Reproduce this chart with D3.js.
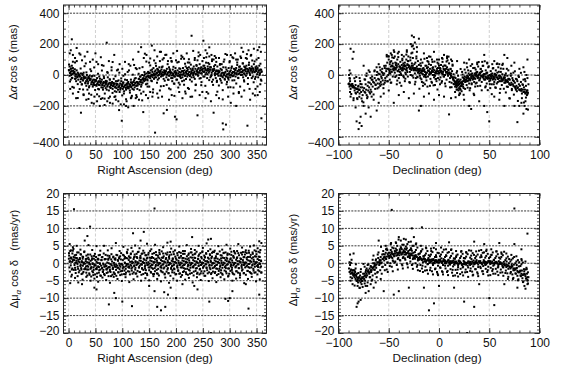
<!DOCTYPE html>
<html><head><meta charset="utf-8">
<script src="https://cdn.jsdelivr.net/npm/d3@7"></script>
<style>
body{margin:0;background:#fff}
svg{display:block}
text{font-family:"Liberation Sans",Arial,Helvetica,sans-serif;fill:#111}
</style>
</head><body>
<svg id="chart" width="563" height="370"></svg>
<script>
// ---------- tick labels ----------
const raTicks = [0,50,100,150,200,250,300,350];
const decTicks = [-100,-50,0,50,100];
const posTicks = [-400,-200,0,200,400];
const pmTicks = [-20,-15,-10,-5,0,5,10,15,20];

// ---------- data: [x, y] ----------
// Right Ascension (deg) vs Δα cos δ (mas)
const raDeltaAlpha = [
[1,30],[2,-5],[2,55],[3,15],[4,40],[5,0],[6,25],[7,-20],[8,45],[9,10],[4,-30],[6,60],
[11,20],[12,-25],[13,5],[14,-40],[15,30],[16,-10],[17,15],[18,-30],[19,0],
[21,-10],[22,-45],[23,10],[24,-25],[25,-60],[26,0],[27,-35],[28,15],[29,-20],
[31,-50],[32,-15],[33,-70],[34,0],[35,-35],[36,-55],[37,-20],[38,-80],[39,-5],
[41,-25],[42,-60],[43,-10],[44,-45],[45,-75],[46,-30],[47,-50],[48,-5],[49,-65],
[51,-35],[52,-70],[53,-20],[54,-55],[55,-90],[56,-40],[57,-10],[58,-65],[59,-45],
[61,-80],[62,-30],[63,-60],[64,-95],[65,-45],[66,-20],[67,-70],[68,-50],[69,-85],
[71,-40],[72,-75],[73,-15],[74,-60],[75,-100],[76,-50],[77,-30],[78,-80],[79,-65],
[81,-45],[82,-90],[83,-70],[84,-25],[85,-55],[86,-105],[87,-75],[88,-40],[89,-85],
[91,-60],[92,-95],[93,-35],[94,-75],[95,-110],[96,-55],[97,-85],[98,-40],[99,-70],
[101,-90],[102,-50],[103,-120],[104,-75],[105,-30],[106,-65],[107,-95],[108,-55],[109,-80],
[111,-45],[112,-85],[113,-60],[114,-100],[115,-70],[116,-30],[117,-75],[118,-50],[119,-90],
[121,-65],[122,-35],[123,-80],[124,-50],[125,-20],[126,-70],[127,-45],[128,-90],[129,-55],
[131,-25],[132,-60],[133,-10],[134,-45],[135,-75],[136,-30],[137,0],[138,-50],[139,-20],
[141,-40],[142,5],[143,-25],[144,-60],[145,10],[146,-10],[147,-35],[148,20],[149,-5],
[151,15],[152,-20],[153,30],[154,-5],[155,-40],[156,20],[157,0],[158,45],[159,-25],
[161,5],[162,30],[163,-15],[164,15],[165,40],[166,-30],[167,25],[168,0],[169,50],
[171,20],[172,-10],[173,35],[174,0],[175,55],[176,15],[177,-25],[178,30],[179,5],
[181,25],[182,-15],[183,40],[184,5],[185,-30],[186,20],[187,50],[188,-5],[189,30],
[191,-20],[192,15],[193,-40],[194,35],[195,0],[196,-55],[197,20],[198,-10],[199,45],
[201,10],[202,-30],[203,30],[204,-5],[205,-50],[206,20],[207,0],[208,40],[209,-20],
[211,25],[212,-15],[213,45],[214,5],[215,-35],[216,30],[217,-5],[218,55],[219,15],
[221,-10],[222,35],[223,0],[224,50],[225,20],[226,-30],[227,40],[228,10],[229,-15],
[231,30],[232,0],[233,55],[234,15],[235,-25],[236,40],[237,5],[238,65],[239,25],
[241,-5],[242,45],[243,15],[244,70],[245,30],[246,-20],[247,50],[248,10],[249,35],
[251,60],[252,20],[253,-10],[254,45],[255,5],[256,80],[257,30],[258,-20],[259,55],
[261,15],[262,70],[263,35],[264,-15],[265,50],[266,0],[267,90],[268,25],[269,-30],
[271,40],[272,5],[273,65],[274,-20],[275,30],[276,-45],[277,55],[278,10],[279,-5],
[281,25],[282,-25],[283,40],[284,-5],[285,-50],[286,15],[287,-15],[288,50],[289,0],
[291,-30],[292,20],[293,-10],[294,35],[295,-45],[296,5],[297,-20],[298,45],[299,10],
[301,-15],[302,30],[303,0],[304,55],[305,-35],[306,20],[307,-5],[308,40],[309,15],
[311,-10],[312,45],[313,5],[314,65],[315,25],[316,-20],[317,35],[318,10],[319,55],
[321,0],[322,40],[323,20],[324,75],[325,-15],[326,30],[327,55],[328,5],[329,35],
[331,60],[332,10],[333,40],[334,-20],[335,25],[336,80],[337,45],[338,0],[339,30],
[341,55],[342,15],[343,-10],[344,40],[345,70],[346,20],[347,-25],[348,50],[349,30],
[351,5],[352,45],[353,-15],[354,30],[355,60],[356,10],[357,35],[358,-30],[359,20],
[0.5,32],[2.5,12],[4.5,23],[6.5,6],[8.5,29],[9.5,18],
[10.5,12],[12.5,-8],[14.5,3],[16.5,-14],[18.5,9],[19.5,-4],
[20.5,-8],[22.5,-28],[24.5,-17],[26.5,-34],[28.5,-11],[29.5,-22],
[30.5,-18],[32.5,-40],[34.5,-27],[36.5,-44],[38.5,-21],[39.5,-33],
[40.5,-30],[42.5,-48],[44.5,-37],[46.5,-56],[48.5,-31],[49.5,-42],
[50.5,-38],[52.5,-60],[54.5,-47],[56.5,-64],[58.5,-41],[59.5,-52],
[60.5,-43],[62.5,-66],[64.5,-52],[66.5,-69],[68.5,-46],[69.5,-58],
[70.5,-48],[72.5,-68],[74.5,-57],[76.5,-76],[78.5,-51],[79.5,-62],
[80.5,-55],[82.5,-73],[84.5,-62],[86.5,-80],[88.5,-56],[89.5,-67],
[90.5,-58],[92.5,-79],[94.5,-67],[96.5,-85],[98.5,-61],[99.5,-72],
[100.5,-60],[102.5,-78],[104.5,-68],[106.5,-84],[108.5,-62],[109.5,-73],
[110.5,-53],[112.5,-75],[114.5,-62],[116.5,-79],[118.5,-56],[119.5,-66],
[120.5,-45],[122.5,-63],[124.5,-52],[126.5,-68],[128.5,-46],[129.5,-55],
[130.5,-25],[132.5,-43],[134.5,-32],[136.5,-48],[138.5,-26],[139.5,-35],
[140.5,-5],[142.5,-23],[144.5,-12],[146.5,-28],[148.5,-6],[149.5,-15],
[150.5,12],[152.5,-8],[154.5,3],[156.5,-14],[158.5,9],[159.5,-1],
[160.5,22],[162.5,2],[164.5,13],[166.5,-4],[168.5,19],[169.5,8],
[170.5,27],[172.5,7],[174.5,18],[176.5,1],[178.5,24],[179.5,13],
[180.5,22],[182.5,2],[184.5,13],[186.5,-4],[188.5,19],[189.5,8],
[190.5,17],[192.5,-3],[194.5,8],[196.5,-9],[198.5,14],[199.5,3],
[200.5,16],[202.5,-4],[204.5,9],[206.5,-8],[208.5,15],[209.5,2],
[210.5,22],[212.5,2],[214.5,13],[216.5,-4],[218.5,19],[219.5,8],
[220.5,27],[222.5,7],[224.5,18],[226.5,1],[228.5,24],[229.5,13],
[230.5,32],[232.5,12],[234.5,23],[236.5,6],[238.5,29],[239.5,18],
[240.5,37],[242.5,17],[244.5,28],[246.5,11],[248.5,34],[249.5,23],
[250.5,42],[252.5,22],[254.5,33],[256.5,16],[258.5,39],[259.5,28],
[260.5,40],[262.5,24],[264.5,35],[266.5,14],[268.5,37],[269.5,26],
[270.5,32],[272.5,12],[274.5,23],[276.5,6],[278.5,29],[279.5,18],
[280.5,17],[282.5,-3],[284.5,8],[286.5,-9],[288.5,14],[289.5,3],
[290.5,12],[292.5,-8],[294.5,3],[296.5,-14],[298.5,9],[299.5,-2],
[300.5,22],[302.5,2],[304.5,13],[306.5,-4],[308.5,19],[309.5,8],
[310.5,32],[312.5,12],[314.5,23],[316.5,6],[318.5,29],[319.5,18],
[320.5,37],[322.5,17],[324.5,28],[326.5,11],[328.5,34],[329.5,23],
[330.5,42],[332.5,22],[334.5,33],[336.5,16],[338.5,39],[339.5,28],
[340.5,40],[342.5,24],[344.5,31],[346.5,18],[348.5,41],[349.5,26],
[350.5,37],[352.5,17],[354.5,28],[356.5,11],[358.5,34],[359.5,23],
[0.8,68],[2.6,-42],[4.4,42],[6.2,-18],[8,86],[9.8,-82],[11.6,37],[13.4,-22],[15.2,90],[17,-59],[18.8,2],
[20.6,-91],[22.4,42],[24.2,-61],[26,7],[27.8,-125],[29.6,57],[31.4,-54],[33.2,17],[35,-95],[36.8,-13],
[38.6,-72],[40.4,37],[42.2,-128],[44,-7],[45.8,-64],[47.6,49],[49.4,-97],[51.2,-34],[53,-125],[54.8,8],
[56.6,-93],[58.4,-24],[60.2,-155],[62,29],[63.8,-82],[65.6,-9],[67.4,-120],[69.2,-38],[71,-95],[72.8,14],
[74.6,-150],[76.4,-28],[78.2,-84],[80,30],[81.8,-116],[83.6,-52],[85.4,-142],[87.2,-8],[89,-109],[90.8,-40],
[92.6,-170],[94.4,15],[96.2,-95],[98,-22],[99.8,-132],[101.6,-48],[103.4,-105],[105.2,5],[107,-157],[108.8,-33],
[110.6,-86],[112.4,30],[114.2,-114],[116,-47],[117.8,-135],[119.6,2],[121.4,-95],[123.2,-23],[125,-150],[126.8,38],
[128.6,-68],[130.4,8],[132.2,-98],[134,-10],[135.8,-63],[137.6,51],[139.4,-108],[141.2,19],[143,-32],[144.8,87],
[146.6,-56],[148.4,12],[150.2,-75],[152,62],[153.8,-36],[155.6,35],[157.4,-93],[159.2,94],[161,-15],[162.8,59],
[164.6,-50],[166.4,35],[168.2,-21],[170,90],[171.8,-73],[173.6,50],[175.4,-5],[177.2,109],[179,-37],[180.8,27],
[182.6,-64],[184.4,70],[186.2,-31],[188,38],[189.8,-93],[191.6,91],[193.4,-20],[195.2,53],[197,-57],[198.8,27],
[200.6,-30],[202.4,81],[204.2,-81],[206,43],[207.8,-11],[209.6,105],[211.4,-40],[213.2,26],[215,-63],[216.8,73],
[218.6,-26],[220.4,45],[222.2,-84],[224,102],[225.8,-7],[227.6,67],[229.4,-42],[231.2,42],[233,-14],[234.8,97],
[236.6,-65],[238.4,59],[240.2,5],[242,121],[243.8,-23],[245.6,43],[247.4,-46],[249.2,90],[251,-10],[252.8,60],
[254.6,-70],[256.4,115],[258.2,5],[260,78],[261.8,-33],[263.6,51],[265.4,-7],[267.2,101],[269,-64],[270.8,56],
[272.6,-2],[274.4,111],[276.2,-37],[278,25],[279.8,-68],[281.6,66],[283.4,-36],[285.2,33],[287,-98],[288.8,86],
[290.6,-25],[292.4,49],[294.2,-60],[296,25],[297.8,-30],[299.6,82],[301.4,-79],[303.2,45],[305,-8],[306.8,109],
[308.6,-34],[310.4,33],[312.2,-55],[314,81],[315.8,-18],[317.6,53],[319.4,-75],[321.2,110],[323,1],[324.8,75],
[326.6,-34],[328.4,51],[330.2,-5],[332,105],[333.8,-58],[335.6,65],[337.4,10],[339.2,125],[341,-20],[342.8,44],
[344.6,-47],[346.4,88],[348.2,-13],[350,56],[351.8,-74],[353.6,110],[355.4,0],[357.2,73],[359,-37],
[2,140],[7,-77],[12,81],[17,-149],[22,132],[27,-94],[32,75],[37,-155],[42,25],[47,-185],[52,85],[57,-138],
[62,64],[67,-153],[72,19],[77,-180],[82,84],[87,-138],[92,35],[97,-190],[102,-5],[107,-200],[112,70],[117,-145],
[122,65],[127,-142],[132,44],[137,-164],[142,138],[147,-75],[152,107],[157,-113],[162,76],[167,-147],[172,150],
[177,-71],[182,131],[187,-87],[192,86],[197,-135],[202,156],[207,-62],[212,116],[217,-107],[222,81],[227,-141],
[232,156],[237,-62],[242,146],[247,-66],[252,110],[257,-110],[262,179],[267,-44],[272,123],[277,-108],[282,71],
[287,-158],[292,136],[297,-80],[302,129],[307,-81],[312,100],[317,-117],[322,176],[327,-42],[332,135],[337,-90],
[342,94],[347,-132],[352,161],[357,-60],
[6,231],[4,160],[8,130],[12,110],[15,175],[20,140],[25,95],[30,120],[35,150],[40,85],[45,100],[50,140],
[55,70],[60,115],[65,60],[71,209],[75,90],[80,50],[85,130],[90,30],[95,70],[100,40],[105,85],[110,20],
[115,60],[120,100],[125,45],[130,150],[135,180],[140,110],[145,130],[150,80],[155,190],[160,160],
[165,120],[170,150],[175,100],[180,130],[185,90],[190,110],[195,140],[200,95],[205,85],[210,125],
[215,105],[220,140],[225,80],[229,254],[235,110],[240,95],[245,130],[251,222],[255,160],[258,140],
[262,120],[266,130],[270,100],[275,85],[280,110],[285,70],[290,100],[295,130],[300,90],[305,115],
[310,140],[315,100],[320,120],[325,150],[330,110],[335,160],[340,130],[345,170],[350,100],[355,180],[358,150],
[3,-90],[8,-120],[14,-150],[18,-110],[23,-244],[28,-130],[33,-160],[38,-120],[43,-180],[48,-140],
[53,-170],[58,-200],[63,-150],[67,-194],[72,-170],[77,-140],[82,-185],[88,-160],[94,-227],[99,-296],
[103,-190],[108,-170],[111,-209],[116,-150],[121,-200],[126,-130],[131,-160],[135,-120],[139,-240],
[144,-130],[148,-150],[152,-110],[156,-140],[161,-373],[165,-120],[170,-100],[174,-140],[177,-248],
[183,-226],[187,-160],[192,-130],[198,-270],[201,-287],[206,-110],[212,-150],[218,-120],[224,-90],
[230,-140],[236,-100],[240,-261],[244,-130],[249,-110],[255,-150],[260,-120],[265,-170],[270,-244],
[275,-130],[280,-150],[287,-313],[288,-352],[293,-321],[297,-140],[302,-180],[307,-120],[312,-200],
[317,-110],[322,-140],[327,-100],[333,-328],[338,-160],[343,-120],[348,-90],[352,-130],[356,-110],[359,-280]
];

// Declination (deg) vs Δα cos δ (mas)
const decDeltaAlpha = [
[-89.5,-55],[-89,-75],[-88.5,-40],[-88,-90],[-87,-60],[-86,-80],[-85.5,-70],[-89,-20],[-88,10],[-89.5,0],
[-88.5,-110],[-88,-140],[-89,30],
[-90,-58],[-89,-62],[-88,-66],[-87,-70],[-86,-74],[-85,-78],[-84,-82],[-83,-86],[-82,-89],[-81,-92],[-80,-95],[-79,-97],
[-84.5,-80],[-84,-100],[-83,-65],[-82.5,-120],[-82,-90],[-81,-110],[-80.5,-75],[-83.5,-40],[-81.5,-150],
[-79.5,-95],[-79,-120],[-78,-80],[-77.5,-110],[-77,-60],[-76,-130],[-75.5,-100],[-78.5,-40],[-76.5,-170],[-79,-20],
[-74.5,-85],[-74,-110],[-73,-60],[-72.5,-95],[-72,-130],[-71,-70],[-70.5,-100],[-73.5,-30],[-71.5,-150],[-72,10],
[-69.5,-80],[-69,-50],[-68,-95],[-67.5,-60],[-67,-30],[-66,-75],[-65.5,-45],[-68.5,-120],[-66.5,-10],[-69,20],[-67,-140],
[-64.5,-50],[-64,-20],[-63,-65],[-62.5,-35],[-62,0],[-61,-55],[-60.5,-25],[-63.5,-90],[-61.5,20],[-60,-80],[-64,30],
[-59.5,-30],[-59,5],[-58,-45],[-57.5,-10],[-57,20],[-56,-35],[-55.5,0],[-58.5,-70],[-56.5,40],[-55,-60],[-59,50],[-57,-20],
[-54.5,10],[-54,45],[-53.5,-20],[-53,60],[-52.5,25],[-52,-10],[-51.5,80],[-51,40],[-50.5,0],[-50,100],[-54,-50],[-52,120],[-51,-40],
[-49.5,30],[-49,70],[-48.5,10],[-48,55],[-47.5,90],[-47,20],[-46.5,60],[-46,-10],[-45.5,40],[-45,110],[-49,-30],[-47,130],[-46,75],[-48,-50],
[-44.5,50],[-44,15],[-43.5,80],[-43,35],[-42.5,-5],[-42,60],[-41.5,100],[-41,25],[-40.5,70],[-40,-20],[-44,120],[-42,-60],[-43,45],[-41,140],
[-39.5,55],[-39,20],[-38.5,85],[-38,40],[-37.5,0],[-37,65],[-36.5,105],[-36,30],[-35.5,75],[-35,-15],[-39,-50],[-37,130],[-38,10],[-36,50],
[-34.5,40],[-34,80],[-33.5,15],[-33,60],[-32.5,100],[-32,30],[-31.5,70],[-31,-10],[-30.5,120],[-30,50],[-34,-40],[-32,150],[-33,5],[-31,90],
[-29.5,60],[-29,20],[-28.5,95],[-28,40],[-27.5,140],[-27,75],[-26.5,-5],[-26,110],[-25.5,35],[-25,170],[-29,-50],[-27,185],[-28,0],[-26,60],
[-24.5,45],[-24,10],[-23.5,80],[-23,30],[-22.5,120],[-22,55],[-21.5,-15],[-21,90],[-20.5,20],[-20,65],[-24,-60],[-22,150],[-23,-20],[-21,40],
[-19.5,10],[-19,40],[-18.5,-20],[-18,60],[-17.5,25],[-17,-45],[-16.5,80],[-16,5],[-15.5,45],[-15,-10],[-18,100],[-16,-70],[-17,30],[-19,-5],
[-14.5,35],[-14,0],[-13.5,60],[-13,15],[-12.5,-35],[-12,45],[-11.5,90],[-11,-10],[-10.5,25],[-10,70],[-14,-60],[-12,110],[-13,-15],[-11,50],
[-9.5,5],[-9,40],[-8.5,-25],[-8,65],[-7.5,20],[-7,-50],[-6.5,85],[-6,0],[-5.5,35],[-5,-15],[-9,-70],[-7,100],[-8,15],[-6,50],
[-4.5,30],[-4,-5],[-3.5,55],[-3,10],[-2.5,-40],[-2,40],[-1.5,80],[-1,-20],[-0.5,25],[0,60],[-4,-65],[-2,100],[-3,-25],[-1,45],
[0.5,10],[1,45],[1.5,-15],[2,65],[2.5,25],[3,-40],[3.5,85],[4,5],[4.5,40],[5,-10],[1,-60],[3,110],[2,20],[4,55],
[5.5,35],[6,0],[6.5,60],[7,20],[7.5,-30],[8,50],[8.5,95],[9,-5],[9.5,30],[10,75],[6,-55],[8,120],[7,40],[9,10],
[10.5,15],[11,-20],[11.5,40],[12,-5],[12.5,-50],[13,25],[13.5,60],[14,-30],[14.5,5],[15,-60],[11,-80],[13,90],[12,10],[14,-15],
[15.5,-40],[16,-75],[16.5,-20],[17,-60],[17.5,-95],[18,-35],[18.5,-70],[19,-5],[19.5,-50],[20,-85],[16,-110],[18,25],[17,-45],[19,-65],[16.5,-55],[18.5,-30],[17.5,-80],[19.5,-100],
[20.5,-55],[21,-90],[21.5,-30],[22,-70],[22.5,-105],[23,-45],[23.5,-15],[24,-60],[24.5,-85],[25,-35],[21,-120],[23,20],[22,-50],[24,-75],[20.5,-40],[22.5,-65],[24.5,-20],[21.5,-95],
[25.5,-10],[26,-45],[26.5,15],[27,-30],[27.5,-65],[28,-5],[28.5,-40],[29,30],[29.5,-20],[30,-55],[26,-90],[28,50],[27,-15],[29,-35],
[30.5,0],[31,-35],[31.5,25],[32,-20],[32.5,-60],[33,10],[33.5,-30],[34,45],[34.5,-10],[35,-45],[31,-85],[33,70],[32,5],[34,-25],
[35.5,10],[36,-25],[36.5,35],[37,-10],[37.5,-50],[38,20],[38.5,-20],[39,55],[39.5,0],[40,-35],[36,-75],[38,80],[37,15],[39,-15],
[40.5,15],[41,-20],[41.5,40],[42,-5],[42.5,-45],[43,25],[43.5,-15],[44,60],[44.5,5],[45,-30],[41,-70],[43,85],[42,20],[44,-10],
[45.5,5],[46,-30],[46.5,30],[47,-15],[47.5,-55],[48,15],[48.5,-25],[49,50],[49.5,-5],[50,-40],[46,-80],[48,75],[47,10],[49,-20],
[50.5,0],[51,-35],[51.5,25],[52,-20],[52.5,-60],[53,10],[53.5,-30],[54,45],[54.5,-10],[55,-45],[51,-85],[53,70],[52,5],[54,-25],
[55.5,5],[56,-30],[56.5,30],[57,-15],[57.5,-55],[58,15],[58.5,-25],[59,50],[59.5,-5],[60,-40],[56,-80],[58,75],
[60.5,-5],[61,-40],[61.5,20],[62,-25],[62.5,-65],[63,5],[63.5,-35],[64,40],[64.5,-15],[65,-50],[61,-90],[63,65],
[65.5,-15],[66,-50],[66.5,10],[67,-35],[67.5,-75],[68,-5],[68.5,-45],[69,30],[69.5,-25],[70,-60],
[70.5,-30],[71,-65],[71.5,-5],[72,-50],[72.5,-90],[73,-20],[73.5,-60],[74,15],[74.5,-40],[75,-75],
[75.5,-50],[76,-85],[76.5,-25],[77,-70],[77.5,-105],[78,-40],[78.5,-80],[79,-5],[79.5,-60],[80,-95],
[80.5,-70],[81,-100],[81.5,-45],[82,-90],[82.5,-120],[83,-60],[83.5,-95],[84,-30],[84.5,-80],[85,-110],
[85.5,-95],[86,-120],[86.5,-70],[87,-110],[87.5,-130],[88,-100],[88.5,-115],[89,-60],[86,-40],[88,-20],[87,0],
[66,-38],[68,-46],[70,-54],[72,-62],[74,-70],[76,-78],[78,-86],[80,-94],[82,-102],[84,-110],[86,-117],[88,-124],
[-50,40],[-48,35],[-46,55],[-44,40],[-42,50],[-40,35],[-38,45],[-36,40],[-34,55],[-32,45],[-30,60],[-28,50],
[-26,45],[-24,35],[-22,30],[-20,25],[-18,15],[-16,25],[-14,20],[-12,15],[-10,25],[-8,10],[-6,20],[-4,15],
[-2,25],[0,15],[2,25],[4,20],[6,30],[8,20],[10,15],[12,-5],[14,-20],[16,-45],[18,-55],[20,-60],[22,-50],
[24,-40],[26,-30],[28,-20],[30,-25],[32,-10],[34,-15],[36,0],[38,-5],[40,5],[42,-5],[44,0],[46,-10],[48,-15],
[50,-20],[52,-10],[54,-15],[56,-5],[58,-15],[60,-20],[62,-15],[64,-25],[66,-30],[68,-35],
[-49,20],[-47,60],[-45,30],[-43,65],[-41,25],[-39,55],[-37,30],[-35,60],[-33,35],[-31,65],[-29,40],[-27,60],
[-25,30],[-23,45],[-21,15],[-19,30],[-17,10],[-15,30],[-13,5],[-11,30],[-9,15],[-7,30],[-5,0],[-3,20],[-1,10],
[1,30],[3,10],[5,35],[7,15],[9,35],[11,5],[13,-15],[15,-35],[17,-70],[19,-45],[21,-75],[23,-55],[25,-25],
[27,-40],[29,-10],[31,-30],[33,-5],[35,-20],[37,5],[39,-15],[41,10],[43,-10],[45,5],[47,-20],[49,-5],[51,-25],
[53,-5],[55,-20],[57,0],[59,-25],[61,-10],[63,-30],[65,-20],[67,-40],[69,-25],
[-54.5,59],[-53.5,-36],[-52.5,41],[-51.5,-41],[-50.5,121],[-49.5,11],[-48.5,84],[-47.5,-49],[-46.5,114],[-45.5,35],
[-44.5,149],[-43.5,-13],[-42.5,76],[-41.5,-36],[-40.5,116],[-39.5,0],[-38.5,50],[-37.5,-70],[-36.5,95],[-35.5,-7],
[-34.5,64],[-33.5,-24],[-32.5,132],[-31.5,19],[-30.5,90],[-29.5,-46],[-28.5,113],[-27.5,32],[-26.5,145],[-25.5,-17],
[-24.5,70],[-23.5,-44],[-22.5,107],[-21.5,-12],[-20.5,34],[-19.5,-89],[-18.5,75],[-17.5,-28],[-16.5,40],[-15.5,-50],
[-14.5,105],[-13.5,-10],[-12.5,60],[-11.5,-75],[-10.5,85],[-9.5,4],[-8.5,118],[-7.5,-44],[-6.5,45],[-5.5,-67],
[-4.5,87],[-3.5,-27],[-2.5,24],[-1.5,-94],[-0.5,72],[0.5,-30],[1.5,40],[2.5,-50],[3.5,105],[4.5,-9],[5.5,62],
[6.5,-73],[7.5,87],[8.5,6],[9.5,119],[10.5,-45],[11.5,38],[12.5,-79],[13.5,67],[14.5,-57],[15.5,-15],[16.5,-144],
[17.5,14],[18.5,-94],[19.5,-29],[20.5,-119],[21.5,39],[22.5,-72],[23.5,3],[24.5,-128],[25.5,35],[26.5,-42],
[27.5,76],[28.5,-82],[29.5,10],[30.5,-99],[31.5,59],[32.5,-54],[33.5,-3],[34.5,-121],[35.5,46],[36.5,-55],
[37.5,16],[38.5,-72],[39.5,84],[40.5,-31],[41.5,38],[42.5,-99],[43.5,59],[44.5,-23],[45.5,89],[46.5,-73],
[47.5,14],[48.5,-98],[49.5,56],[50.5,-59],[51.5,-6],[52.5,-124],[53.5,42],[54.5,-60],[55.5,8],[56.5,-83],
[57.5,71],[58.5,-46],[59.5,21],[60.5,-116],[61.5,42],[62.5,-40],[63.5,73],[64.5,-89],[65.5,-1],[66.5,-113],
[67.5,40],[68.5,-77],[69.5,-29],[70.5,-152],[71.5,9],[72.5,-98],[73.5,-33],[74.5,-127],[75.5,24],[76.5,-95],
[77.5,-29],[78.5,-168],[79.5,-13],[80.5,-97],[81.5,14],[82.5,-150],[83.5,-64],[84.5,-178],[85.5,-27],[86.5,-146],
[87.5,-100],[88.5,-224],
[-88.7,-24],[-87.3,-123],[-86.2,-58],[-85.1,-163],[-84.2,-21],[-83.1,-115],[-82.3,-13],[-81.2,-156],[-80.1,-70],
[-79.3,-141],[-78.2,-58],[-77.1,-152],[-76.3,-80],[-75.2,-177],[-74.1,-28],[-73.3,-115],[-72.2,-6],[-71.1,-141],
[-70.3,-47],[-69.2,-111],[-68.1,-19],[-67.3,-109],[-66.2,-31],[-65.1,-126],[-64.3,24],[-63.2,-61],[-62.1,50],
[-61.3,-87],[-60.2,9],[-59.1,-57],[-58.3,31],[-57.2,-61],[-56.1,13],[-55.3,-85],
[-88,170],[-86,105],[-85,150],[-75,60],[-70,30],[-60,70],[-52,130],[-50,120],[-48,140],[-45,160],[-40,150],
[-35,120],[-32,160],[-28,200],[-27,255],[-26,190],[-25,245],[-24,210],[-22,180],[-20,235],[-15,140],[-10,120],
[-5,150],[0,100],[5,130],[8,110],[12,100],[18,90],[25,80],[30,100],[38,70],[45,130],[48,80],[55,90],[60,70],
[65,130],[68,110],[72,60],[75,80],[80,40],[85,20],[88,100],[84,50],
[-85,-150],[-83,-210],[-82,-300],[-80,-350],[-79,-310],[-78,-270],[-77,-330],[-75,-200],[-73,-250],[-70,-210],
[-68,-270],[-65,-160],[-62,-230],[-60,-180],[-58,-140],[-55,-120],[-50,-100],[-45,-180],[-40,-130],[-35,-110],
[-30,-150],[-25,-120],[-20,-230],[-18,-200],[-15,-140],[-10,-120],[-5,-160],[0,-130],[5,-140],[10,-255],[12,-150],
[20,-130],[25,-160],[30,-200],[32,-220],[35,-130],[40,-170],[45,-200],[48,-240],[50,-300],[55,-140],[60,-160],
[65,-200],[70,-150],[75,-200],[78,-305],[80,-200],[82,-180],[84,-250],[85,-200],[86,-170],[87,-220]
];

// Right Ascension (deg) vs Δμα cos δ (mas/yr)
const raDeltaMu = [
[1,2.2],[2,0.4],[3,3.5],[4,-0.6],[5,1.3],[6,-1.8],[7,2.8],[8,0.8],[9,4.1],
[11,-0.5],[12,1.6],[13,-1.9],[14,2.4],[15,0.2],[16,3.1],[17,-1],[18,1],[19,-2.6],
[21,1.2],[22,-0.8],[23,2.5],[24,-1.8],[25,0.3],[26,-2.9],[27,1.8],[28,-0.2],[29,3.2],
[31,-1.4],[32,0.6],[33,-2.7],[34,1.3],[35,-0.7],[36,2.5],[37,-1.8],[38,0.2],[39,-3.3],
[41,0.7],[42,-1.3],[43,2],[44,-2.3],[45,-0.2],[46,-3.4],[47,1.3],[48,-0.7],[49,2.7],
[51,-1.6],[52,0.4],[53,-2.9],[54,1.1],[55,-0.9],[56,2.3],[57,-2],[58,0],[59,-3.5],
[61,0.9],[62,-1.5],[63,1.8],[64,-2.5],[65,-0.4],[66,-3.1],[67,1.1],[68,-0.9],[69,2.4],
[71,-1.8],[72,0.2],[73,-2.6],[74,1.3],[75,-1.1],[76,2.1],[77,-2.2],[78,-0.3],[79,-3.7],
[81,0.5],[82,-1.6],[83,1.7],[84,-2.6],[85,-0.5],[86,-3.1],[87,1],[88,-1],[89,2.4],
[91,-1.3],[92,0.7],[93,-2.6],[94,1.4],[95,-0.6],[96,2],[97,-2.3],[98,-0.2],[99,-3.2],
[101,0.9],[102,-1.1],[103,2.2],[104,-2.1],[105,0],[106,-3.2],[107,1.5],[108,-0.5],[109,2.9],
[111,-1.1],[112,0.9],[113,-2.4],[114,1.6],[115,-0.4],[116,2.8],[117,-1.5],[118,0.5],[119,-3],
[121,1.2],[122,-0.8],[123,2.5],[124,-1.8],[125,0.3],[126,-2.9],[127,1.8],[128,-0.2],[129,3.2],
[131,-1.2],[132,0.8],[133,-2.5],[134,1.5],[135,-0.3],[136,2.7],[137,-1.6],[138,0.4],[139,-3.1],
[141,1],[142,-1],[143,2.3],[144,-2],[145,0.1],[146,-3],[147,1.6],[148,-0.4],[149,3],
[151,-1.2],[152,0.8],[153,-2.5],[154,1.5],[155,-0.5],[156,2.7],[157,-1.6],[158,0.4],[159,-3.1],
[161,1.1],[162,-0.9],[163,2.4],[164,-1.9],[165,0.2],[166,-3],[167,1.7],[168,-0.3],[169,3.1],
[171,-1.1],[172,0.9],[173,-2.4],[174,1.6],[175,-0.4],[176,2.8],[177,-1.5],[178,0.5],[179,-3],
[181,1.2],[182,-0.8],[183,2.5],[184,-1.8],[185,0.3],[186,-2.9],[187,1.8],[188,-0.2],[189,3.2],
[191,-1.3],[192,0.7],[193,-2.6],[194,1.4],[195,-0.6],[196,2.6],[197,-1.7],[198,0.3],[199,-3.2],
[201,1],[202,-1],[203,2.3],[204,-2],[205,0.1],[206,-3],[207,1.6],[208,-0.4],[209,3],
[211,-1.2],[212,0.8],[213,-2.5],[214,1.5],[215,-0.5],[216,2.7],[217,-1.6],[218,0.4],[219,-3.1],
[221,1.1],[222,-0.9],[223,2.4],[224,-1.9],[225,0.2],[226,-3],[227,1.7],[228,-0.3],[229,3.1],
[231,-1.1],[232,0.9],[233,-2.4],[234,1.6],[235,-0.4],[236,2.8],[237,-1.5],[238,0.5],[239,-3],
[241,1.2],[242,-0.8],[243,2.5],[244,-1.8],[245,0.3],[246,-2.9],[247,1.8],[248,-0.2],[249,3.2],
[251,-1],[252,1],[253,-2.3],[254,1.7],[255,-0.3],[256,2.9],[257,-1.4],[258,0.6],[259,-2.9],
[261,1.3],[262,-0.7],[263,2.6],[264,-1.7],[265,0.4],[266,-2.8],[267,1.9],[268,-0.1],[269,3.3],
[271,-1.2],[272,0.8],[273,-2.5],[274,1.5],[275,-0.5],[276,2.7],[277,-1.6],[278,0.4],[279,-3.1],
[281,1],[282,-1],[283,2.3],[284,-2],[285,0.1],[286,-3],[287,1.6],[288,-0.4],[289,3],
[291,-1.1],[292,0.9],[293,-2.4],[294,1.6],[295,-0.4],[296,2.8],[297,-1.5],[298,0.5],[299,-3],
[301,1.1],[302,-0.9],[303,2.4],[304,-1.9],[305,0.2],[306,-3],[307,1.7],[308,-0.3],[309,3.1],
[311,-1],[312,1],[313,-2.3],[314,1.7],[315,-0.3],[316,2.9],[317,-1.4],[318,0.6],[319,-2.9],
[321,1.2],[322,-0.8],[323,2.5],[324,-1.8],[325,0.3],[326,-2.9],[327,1.8],[328,-0.2],[329,3.2],
[331,-0.9],[332,1.1],[333,-2.2],[334,1.8],[335,-0.2],[336,3],[337,-1.3],[338,0.7],[339,-2.8],
[341,1.4],[342,-0.6],[343,2.7],[344,-1.6],[345,0.5],[346,-2.7],[347,2],[348,0],[349,3.4],
[351,-0.8],[352,1.2],[353,-2],[354,1.9],[355,0],[356,3.1],[357,-1.2],[358,0.8],[359,-2.6],
[0.5,1.3],[2.5,0.6],[4.5,1.6],[6.5,0.4],[8.5,1.1],[10.5,0.9],[12.5,0.1],[14.5,0.7],[16.5,-0.2],[18.5,0.5],
[20.5,0.3],[22.5,-0.5],[24.5,0.6],[26.5,-0.7],[28.5,0.2],[30.5,-0.1],[32.5,-0.9],[34.5,0.3],[36.5,-1],[38.5,-0.2],
[40.5,-0.4],[42.5,-1.1],[44.5,0],[46.5,-1.2],[48.5,-0.3],[50.5,-0.6],[52.5,-1.2],[54.5,0.1],[56.5,-1.1],[58.5,-0.2],
[60.5,-0.7],[62.5,-1.3],[64.5,-0.1],[66.5,-1],[68.5,-0.4],[70.5,-0.8],[72.5,-1.4],[74.5,0],[76.5,-1.1],[78.5,-0.3],
[80.5,-0.6],[82.5,-1.2],[84.5,0.1],[86.5,-1],[88.5,-0.4],[90.5,-0.7],[92.5,-1.3],[94.5,-0.1],[96.5,-1],[98.5,-0.3],
[100.5,-0.5],[102.5,-1.1],[104.5,0.2],[106.5,-0.9],[108.5,-0.2],[110.5,-0.3],[112.5,-0.9],[114.5,0.4],[116.5,-0.7],[118.5,0],
[120.5,0.2],[122.5,-0.6],[124.5,0.6],[126.5,-0.5],[128.5,0.3],[130.5,0],[132.5,-0.7],[134.5,0.7],[136.5,-0.4],[138.5,0.2],
[140.5,0.1],[142.5,-0.6],[144.5,0.8],[146.5,-0.5],[148.5,0.3],[150.5,-0.1],[152.5,-0.8],[154.5,0.6],[156.5,-0.4],[158.5,0.2],
[160.5,0.3],[162.5,-0.5],[164.5,0.7],[166.5,-0.6],[168.5,0.1],[170.5,0],[172.5,-0.7],[174.5,0.6],[176.5,-0.3],[178.5,0.4],
[180.5,0.2],[182.5,-0.6],[184.5,0.8],[186.5,-0.5],[188.5,0.1],[190.5,-0.1],[192.5,-0.8],[194.5,0.5],[196.5,-0.4],[198.5,0.3],
[200.5,0.1],[202.5,-0.6],[204.5,0.7],[206.5,-0.5],[208.5,0.2],[210.5,0],[212.5,-0.7],[214.5,0.6],[216.5,-0.3],[218.5,0.4],
[220.5,0.2],[222.5,-0.5],[224.5,0.8],[226.5,-0.6],[228.5,0.1],[230.5,0],[232.5,-0.8],[234.5,0.6],[236.5,-0.4],[238.5,0.3],
[240.5,0.1],[242.5,-0.6],[244.5,0.7],[246.5,-0.5],[248.5,0.2],[250.5,0.1],[252.5,-0.7],[254.5,0.6],[256.5,-0.3],[258.5,0.4],
[260.5,0.3],[262.5,-0.5],[264.5,0.8],[266.5,-0.6],[268.5,0.1],[270.5,0],[272.5,-0.8],[274.5,0.5],[276.5,-0.4],[278.5,0.3],
[280.5,0.1],[282.5,-0.6],[284.5,0.7],[286.5,-0.5],[288.5,0.2],[290.5,0],[292.5,-0.7],[294.5,0.6],[296.5,-0.3],[298.5,0.4],
[300.5,0.2],[302.5,-0.5],[304.5,0.8],[306.5,-0.6],[308.5,0.1],[310.5,0.1],[312.5,-0.7],[314.5,0.6],[316.5,-0.3],[318.5,0.4],
[320.5,0.3],[322.5,-0.4],[324.5,0.9],[326.5,-0.5],[328.5,0.2],[330.5,0.2],[332.5,-0.6],[334.5,0.8],[336.5,-0.2],[338.5,0.5],
[340.5,0.4],[342.5,-0.4],[344.5,1],[346.5,-0.3],[348.5,0.3],[350.5,0.3],[352.5,-0.5],[354.5,0.9],[356.5,-0.2],[358.5,0.6],
[0.7,2.9],[2.4,-2.4],[4.3,3.7],[6.1,-3.3],[7.9,3.6],[9.6,-1.9],[11.4,2.3],[13.2,-2.8],[15.1,1.5],[16.8,-3.7],[18.6,3.1],
[20.4,-2.1],[22.2,2.6],[24.1,-3.1],[25.8,1.9],[27.6,-2.5],[29.4,3.4],[31.3,-1.7],[33.1,2.2],[34.8,-3.5],[36.6,1.6],
[38.4,-2.9],[40.3,2.5],[42.1,-3.8],[43.8,1.4],[45.6,-2.6],[47.4,2.1],[49.3,-3.2],[51.1,1.8],[52.8,-3.9],[54.6,1.3],
[56.4,-2.7],[58.3,2.4],[60.1,-3.6],[61.8,1.7],[63.6,-2.4],[65.4,2.8],[67.3,-3.4],[69.1,1.2],[70.8,-2.8],[72.6,2.2],
[74.4,-3.7],[76.3,1.6],[78.1,-2.5],[79.8,2.6],[81.6,-3.3],[83.4,1.9],[85.3,-2.9],[87.1,1.4],[88.8,-3.6],[90.6,2.3],
[92.4,-2.6],[94.3,1.7],[96.1,-3.4],[97.8,2.9],[99.6,-2.2],[101.4,2.4],[103.3,-3.1],[105.1,1.8],[106.8,-2.7],[108.6,3.2],
[110.4,-2.3],[112.3,2],[114.1,-3.2],[115.8,2.6],[117.6,-2.1],[119.4,3.4],[121.3,-2.6],[123.1,1.9],[124.8,-3],[126.6,2.7],
[128.4,-2.2],[130.3,3.3],[132.1,-2.5],[133.8,2.1],[135.6,-3.3],[137.4,2.8],[139.3,-1.9],[141.1,3],[142.8,-2.8],[144.6,2.3],
[146.4,-3.4],[148.3,2.5],[150.1,-2],[151.8,3.5],[153.6,-2.7],[155.4,1.8],[157.3,-3.1],[159.1,2.9],[160.8,-2.3],[162.6,3.2],
[164.4,-2.9],[166.3,2.2],[168.1,-3.5],[169.8,2.6],[171.6,-2.1],[173.4,3.4],[175.3,-2.6],[177.1,2],[178.8,-3.2],[180.6,2.8],
[182.4,-2.4],[184.3,3.1],[186.1,-2.8],[187.8,2.3],[189.6,-3.6],[191.4,2.5],[193.3,-2],[195.1,3.3],[196.8,-2.7],[198.6,1.9],
[200.4,-3.1],[202.3,2.9],[204.1,-2.2],[205.8,3.2],[207.6,-2.9],[209.4,2.1],[211.3,-3.4],[213.1,2.7],[214.8,-2.3],[216.6,3.5],
[218.4,-2.6],[220.3,2],[222.1,-3.3],[223.8,2.8],[225.6,-2.1],[227.4,3.1],[229.3,-2.8],[231.1,2.4],[232.8,-3.5],[234.6,2.6],
[236.4,-2.2],[238.3,3.3],[240.1,-2.7],[241.8,2.1],[243.6,-3.2],[245.4,2.9],[247.3,-2.3],[249.1,3.4],[250.8,-2.9],[252.6,2.2],
[254.4,-3.6],[256.3,2.7],[258.1,-2],[259.8,3.5],[261.6,-2.6],[263.4,2.3],[265.3,-3.1],[267.1,3],[268.8,-2.4],[270.6,3.2],
[272.4,-2.8],[274.3,2],[276.1,-3.4],[277.8,2.7],[279.6,-2.2],[281.4,3.4],[283.3,-2.7],[285.1,2.2],[286.8,-3.3],[288.6,2.9],
[290.4,-2.1],[292.3,3.1],[294.1,-2.9],[295.8,2.4],[297.6,-3.6],[299.4,2.6],[301.3,-2.2],[303.1,3.3],[304.8,-2.6],[306.6,2.1],
[308.4,-3.2],[310.3,2.8],[312.1,-2.3],[313.8,3.5],[315.6,-2.7],[317.4,2.3],[319.3,-3.4],[321.1,3],[322.8,-2.1],[324.6,3.2],
[326.4,-2.8],[328.3,2.5],[330.1,-3.3],[331.8,2.9],[333.6,-2.2],[335.4,3.6],[337.3,-2.5],[339.1,2.4],[340.8,-3],[342.6,3.1],
[344.4,-2.1],[346.3,3.7],[348.1,-2.6],[349.8,2.6],[351.6,-3.2],[353.4,3.3],[355.3,-2.3],[357.1,3.8],[358.8,-2.7],
[1.5,-1.2],[3.8,1.6],[6.9,-1.5],[9.2,1.8],[12.1,-1.3],[14.9,1.4],[17.7,-1.6],[20.9,1.5],[23.4,-1.4],[26.2,1.3],
[29.1,-1.7],[31.9,1.2],[34.5,-1.8],[37.8,1.1],[40.9,-1.6],[43.3,1],[46.7,-1.9],[49.8,0.9],[52.4,-1.7],[55.7,1.1],
[58.8,-1.8],[61.4,0.9],[64.9,-1.9],[67.7,1.2],[70.3,-1.7],[73.8,1],[76.9,-1.8],[79.3,1.1],[82.7,-1.6],[85.8,1.2],
[88.4,-1.9],[91.7,0.9],[94.9,-1.7],[97.3,1.1],[100.8,-1.5],[103.9,1.3],[106.3,-1.6],[109.7,1.4],[112.9,-1.3],[115.4,1.6],
[118.7,-1.2],[121.8,1.7],[124.4,-1.3],[127.8,1.5],[130.9,-1.2],[133.3,1.6],[136.7,-1.4],[139.8,1.3],[142.4,-1.5],[145.7,1.4],
[148.9,-1.2],[151.4,1.6],[154.8,-1.3],[157.9,1.5],[160.3,-1.4],[163.7,1.3],[166.8,-1.6],[169.4,1.4],[172.8,-1.3],[175.9,1.6],
[178.3,-1.2],[181.7,1.5],[184.8,-1.4],[187.4,1.3],[190.8,-1.6],[193.9,1.2],[196.3,-1.5],[199.7,1.4],[202.9,-1.3],[205.4,1.6],
[208.7,-1.2],[211.8,1.5],[214.3,-1.4],[217.7,1.3],[220.8,-1.6],[223.4,1.4],[226.8,-1.3],[229.9,1.6],[232.3,-1.2],[235.7,1.5],
[238.8,-1.4],[241.4,1.3],[244.8,-1.6],[247.9,1.4],[250.3,-1.3],[253.7,1.7],[256.8,-1.2],[259.4,1.6],[262.8,-1.3],[265.9,1.5],
[268.3,-1.4],[271.7,1.4],[274.8,-1.5],[277.4,1.3],[280.8,-1.6],[283.9,1.4],[286.3,-1.3],[289.7,1.5],[292.8,-1.4],[295.4,1.3],
[298.8,-1.5],[301.9,1.4],[304.3,-1.3],[307.7,1.6],[310.8,-1.2],[313.4,1.5],[316.8,-1.4],[319.9,1.4],[322.3,-1.3],[325.7,1.7],
[328.8,-1.2],[331.4,1.6],[334.8,-1.1],[337.9,1.8],[340.3,-1.2],[343.7,1.7],[346.8,-1],[349.4,1.9],[352.8,-1.1],[355.9,1.8],[358.3,-0.9],
[2,5.5],[5,-3.8],[8,4.6],[12,-4.2],[15,5],[18,-5.5],[22,3.9],[26,-4.7],[30,6.5],[33,-3.9],[37,5.2],[41,-5],[44,3.8],
[48,-4.4],[52,4.9],[55,-5.3],[59,3.6],[63,-4.1],[66,5],[70,-4.8],[73,3.7],[77,-5.6],[80,4.3],[84,-3.9],[88,5.8],
[91,-4.5],[95,3.5],[99,-5.1],[102,4.7],[106,-4],[110,3.9],[113,-5.4],[117,4.4],[121,-4.6],[124,5.1],[128,-3.8],
[132,4.3],[135,-5],[139,3.6],[143,-4.3],[146,5.6],[150,-4.9],[154,4],[158,-3.7],[161,5.3],[165,-4.5],[169,3.8],
[172,-5.2],[176,4.6],[180,-4.1],[184,5.9],[187,-5.6],[191,4.2],[195,-4.4],[198,3.7],[202,-5],[206,4.8],[209,-3.9],
[213,3.5],[217,-4.7],[220,5.2],[224,-4.2],[228,4.1],[231,-5.5],[235,3.8],[239,-4],[242,5],[246,-4.8],[250,4.4],
[253,-3.6],[257,5.7],[261,-5.1],[264,4],[268,-4.3],[272,3.6],[275,-5.4],[279,4.9],[283,-4],[286,3.9],[290,-4.6],
[294,5.3],[297,-3.8],[301,4.2],[305,-5],[308,3.5],[312,-4.4],[316,5.5],[319,-4.1],[323,4.5],[327,-5.7],[330,3.7],
[334,-4.5],[338,4.8],[341,-3.9],[345,5.1],[349,-5.2],[352,4.3],[356,-4.6],[359,5.8],
[10,15.5],[160,15.7],[20,10.1],[40,10.5],[35,7.8],[140,9],[120,8.6],[134,6.5],[230,7.5],[260,6.8],[265,7],
[355,6.3],[190,6.2],[75,-11.8],[88,-10],[100,-11],[118,-12.3],[165,-12.5],[172,-13.5],[160,-8],[178,-8.3],
[185,-9],[190,-7],[200,-10],[292,-10.2],[297,-10.8],[300,-10],[335,-13],[265,-20],[355,-9],[262,-11],[234,-6.5],
[212,-6],[48,-7],[52,-7.5],[25,-6],[3,-5.7],[180,-12.5],[240,-7.5],[305,-8],[330,-6],[85,-8.5],[150,-6.5]
];

// Declination (deg) vs Δμα cos δ (mas/yr)
const decDeltaMu = [
[-89.5,-1.5],[-89,-2.5],[-88.5,-0.5],[-88,-3],[-87.5,-1.8],[-87,1],[-86.5,-2.8],[-86,-2],[-85.5,-3.3],[-88.5,2.5],[-89,0.3],[-88,-4],
[-84.5,-3],[-84,-4],[-83.5,-2.5],[-83,-4.5],[-82.5,-3.5],[-82,-5],[-81.5,-3],[-81,-4.2],[-80.5,-5.5],[-83,-1.5],[-81,-6.5],[-84,-2],
[-79.5,-4],[-79,-5],[-78.5,-3.5],[-78,-5.5],[-77.5,-4.5],[-77,-6],[-76.5,-4],[-76,-5],[-75.5,-3],[-78,-2.5],[-76,-6.8],[-79,-7],
[-74.5,-4.5],[-74,-3],[-73.5,-5],[-73,-2.5],[-72.5,-4],[-72,-1.5],[-71.5,-3.5],[-71,-5.5],[-70.5,-2],[-73,-6.5],[-71,-0.5],[-74,-1],
[-69.5,-3],[-69,-1.5],[-68.5,-4],[-68,-0.8],[-67.5,-2.5],[-67,-5],[-66.5,-1.2],[-66,-3.5],[-65.5,0],[-68,-6],[-66,1],[-67,-2],
[-64.5,-1.8],[-64,0],[-63.5,-3],[-63,0.8],[-62.5,-1.3],[-62,-4],[-61.5,0.3],[-61,-2.5],[-60.5,1.5],[-63,-5.5],[-61,2.5],[-64,-0.5],
[-59.5,-0.5],[-59,1],[-58.5,-2],[-58,1.8],[-57.5,0],[-57,-3],[-56.5,2.5],[-56,-1],[-55.5,3.5],[-58,-4.5],[-56,1.2],[-59,0.2],
[-54.5,0.8],[-54,2.5],[-53.5,-0.5],[-53,3],[-52.5,1.2],[-52,-1.8],[-51.5,3.8],[-51,0.2],[-50.5,2],[-53,5],[-51,-2.5],[-54,1.8],[-52,4.2],
[-49.5,1.5],[-49,3],[-48.5,0],[-48,3.8],[-47.5,1.8],[-47,-1],[-46.5,4.5],[-46,0.8],[-45.5,2.6],[-48,5.5],[-46,-2.3],[-49,2.2],[-47,3.3],[-45.5,0.5],
[-44.5,2],[-44,3.5],[-43.5,0.5],[-43,4.2],[-42.5,2.2],[-42,-0.5],[-41.5,5],[-41,1.2],[-40.5,3],[-43,6],[-41,-1.8],[-44,2.8],[-42,3.8],[-40.5,1.5],
[-39.5,2.3],[-39,4],[-38.5,0.8],[-38,4.6],[-37.5,2.5],[-37,-0.3],[-36.5,5.3],[-36,1.5],[-35.5,3.3],[-38,6.5],[-36,-1.5],[-39,3],[-37,4],[-35.5,1.8],
[-34.5,2.5],[-34,4.2],[-33.5,1],[-33,4.8],[-32.5,2.8],[-32,0],[-31.5,5.5],[-31,1.8],[-30.5,3.5],[-33,6.8],[-31,-1.2],[-34,3.2],[-32,4.3],[-30.5,2],
[-29.5,2],[-29,3.8],[-28.5,0.5],[-28,4.3],[-27.5,2.3],[-27,-0.5],[-26.5,5],[-26,1.2],[-25.5,3],[-28,6.2],[-26,-1.6],[-29,2.8],[-27,3.6],[-25.5,1.5],
[-24.5,1.5],[-24,3.2],[-23.5,0],[-23,3.8],[-22.5,1.8],[-22,-1],[-21.5,4.5],[-21,0.8],[-20.5,2.5],[-23,5.5],[-21,-2],[-24,2.2],
[-19.5,1],[-19,2.8],[-18.5,-0.5],[-18,3.3],[-17.5,1.3],[-17,-1.5],[-16.5,4],[-16,0.3],[-15.5,2],[-18,5],[-16,-2.5],[-19,1.8],
[-14.5,0.5],[-14,2.3],[-13.5,-1],[-13,2.8],[-12.5,0.8],[-12,-2],[-11.5,3.5],[-11,-0.2],[-10.5,1.5],[-13,4.5],[-11,-3],[-14,1.2],
[-9.5,0.2],[-9,2],[-8.5,-1.3],[-8,2.5],[-7.5,0.5],[-7,-2.3],[-6.5,3.2],[-6,-0.5],[-5.5,1.2],[-8,4.2],[-6,-3.2],[-9,1],
[-4.5,0],[-4,1.8],[-3.5,-1.5],[-3,2.3],[-2.5,0.3],[-2,-2.5],[-1.5,3],[-1,-0.7],[-0.5,1],[-3,4],[-1,-3.4],[-4,0.8],
[0.5,0.2],[1,2],[1.5,-1.3],[2,2.5],[2.5,0.5],[3,-2.3],[3.5,3.2],[4,-0.5],[4.5,1.2],[2,4.5],[4,-3.2],[1,1],
[5.5,0],[6,1.8],[6.5,-1.5],[7,2.3],[7.5,0.3],[8,-2.5],[8.5,3],[9,-0.7],[9.5,1],[7,4],[9,-3.4],[6,0.8],
[10.5,-0.2],[11,1.6],[11.5,-1.7],[12,2.1],[12.5,0.1],[13,-2.7],[13.5,2.8],[14,-0.9],[14.5,0.8],[12,3.8],[14,-3.6],[11,0.6],
[15.5,-0.4],[16,1.3],[16.5,-1.9],[17,1.8],[17.5,0],[18,-2.8],[18.5,2.5],[19,-1.1],[19.5,0.6],[17,3.5],[19,-3.8],[16,0.4],
[20.5,0.2],[21,1.5],[21.5,-1.6],[22,2],[22.5,-0.3],[23,-2.6],[23.5,2.7],[24,-1],[24.5,0.7],[22,3.3],[24,-3.5],[21,0.5],
[25.5,-0.3],[26,1.4],[26.5,-1.8],[27,1.9],[27.5,0.1],[28,-2.5],[28.5,2.6],[29,-1.2],[29.5,0.5],[27,3.2],[29,-3.9],[26,0.2],
[30.5,0.1],[31,1.6],[31.5,-1.5],[32,2.2],[32.5,-0.2],[33,-2.4],[33.5,2.9],[34,-0.9],[34.5,0.8],[32,3.6],[34,-3.3],[31,0.4],
[35.5,-0.2],[36,1.5],[36.5,-1.7],[37,2],[37.5,0.2],[38,-2.6],[38.5,2.5],[39,-1.1],[39.5,0.6],[37,3.4],[39,-3.7],[36,0.3],
[40.5,0.2],[41,1.7],[41.5,-1.4],[42,2.3],[42.5,-0.1],[43,-2.3],[43.5,3],[44,-0.8],[44.5,0.9],[42,3.8],[44,-3.1],[41,0.5],
[45.5,-0.1],[46,1.6],[46.5,-1.6],[47,2.1],[47.5,0.3],[48,-2.5],[48.5,2.7],[49,-1],[49.5,0.7],[47,3.5],[49,-3.5],[46,0.4],
[50.5,0.3],[51,1.8],[51.5,-1.3],[52,2.4],[52.5,0],[53,-2.2],[53.5,3.1],[54,-0.7],[54.5,1],[52,4],[54,-3],[51,0.6],
[55.5,0],[56,1.5],[56.5,-1.6],[57,2],[57.5,0.2],[58,-2.4],[58.5,2.6],[59,-1],[59.5,0.6],[57,3.4],[59,-3.4],[56,0.3],
[60.5,-0.2],[61,1.3],[61.5,-1.8],[62,1.8],[62.5,0],[63,-2.6],[63.5,2.3],[64,-1.2],[64.5,0.4],[62,3.1],[64,-3.6],[61,0.1],
[65.5,-0.6],[66,0.9],[66.5,-2.1],[67,1.4],[67.5,-0.4],[68,-2.9],[68.5,1.9],[69,-1.6],[69.5,0],[67,2.8],[69,-3.9],
[70.5,-1],[71,0.5],[71.5,-2.5],[72,1],[72.5,-0.8],[73,-3.2],[73.5,1.4],[74,-2],[74.5,-0.4],[72,2.4],[74,-4.2],
[75.5,-1.5],[76,0],[76.5,-3],[77,0.5],[77.5,-1.3],[78,-3.6],[78.5,0.9],[79,-2.5],[79.5,-0.9],[77,2],[79,-4.6],
[80.5,-2.3],[81,-0.8],[81.5,-3.7],[82,-0.3],[82.5,-2.1],[83,-4.3],[83.5,0.2],[84,-3.2],[84.5,-1.7],[82,1.2],[84,-5.2],
[85.5,-3.2],[86,-1.8],[86.5,-4.4],[87,-1.3],[87.5,-3],[88,-5],[88.5,-2.6],[89,-4],[86,0.5],[88,-6],
[-88,-2.2],[-86,-2.6],[-84,-3.4],[-82,-3.9],[-80,-4.4],[-78,-4.6],[-76,-4.3],[-74,-3.6],[-72,-3],[-70,-2.5],
[-68,-2],[-66,-1.5],[-64,-0.8],[-62,-0.3],[-60,0.3],[-58,0.8],[-56,1.2],[-54,1.6],[-52,1.9],[-50,2.1],
[-48,2.4],[-46,2.6],[-44,2.8],[-42,3],[-40,3],[-38,3.1],[-36,3],[-34,3.2],[-32,2.9],[-30,2.7],[-28,2.5],
[-26,2.2],[-24,2],[-22,1.8],[-20,1.5],[-18,1.3],[-16,1.1],[-14,1],[-12,0.8],[-10,0.7],[-8,0.6],[-6,0.8],
[-4,0.5],[-2,0.6],[0,0.7],[2,0.5],[4,0.6],[6,0.4],[8,0.5],[10,0.3],[12,0.2],[14,0.3],[16,0.1],[18,0],
[20,-0.1],[22,0.1],[24,-0.2],[26,0],[28,0.1],[30,-0.1],[32,0],[34,0.2],[36,0.1],[38,0],[40,0.2],[42,0.1],
[44,0.3],[46,0.2],[48,0.1],[50,0.3],[52,0.2],[54,0],[56,0.1],[58,-0.1],[60,0],[62,-0.2],[64,-0.4],[66,-0.6],
[68,-0.8],[70,-1],[72,-1.2],[74,-1.5],[76,-1.8],[78,-2.2],[80,-2.6],[82,-3],[84,-3.3],[86,-3.7],[88,-4],
[-87.7,0.1],[-86.45,-4.3],[-85.2,-2],[-83.95,-6.4],[-82.7,-0.3],[-81.45,-5.1],[-80.2,-2.8],[-78.95,-7.1],[-77.7,-1.7],
[-76.45,-5.1],[-75.2,-0.2],[-73.95,-5.8],[-72.7,-2],[-71.45,-6.5],[-70.2,-0.3],[-68.95,-4],[-67.7,-1],[-66.45,-4.7],
[-65.2,2.2],[-63.95,-1.9],[-62.7,1.1],[-61.45,-2.7],[-60.2,3.1],[-58.95,-0.1],[-57.7,4.7],[-56.45,-1.1],[-55.2,2.6],
[-53.95,-2],[-52.7,4],[-51.45,0.2],[-50.2,3],[-48.95,-0.8],[-47.7,5.8],[-46.45,1.5],[-45.2,4.3],[-43.95,0.2],
[-42.7,5.8],[-41.45,2.3],[-40.2,6.8],[-38.95,0.9],[-37.7,4.3],[-36.45,-0.6],[-35.2,5.3],[-33.95,1.4],[-32.7,3.9],
[-31.45,-0.3],[-30.2,6.1],[-28.95,1.5],[-27.7,4.1],[-26.45,-0.3],[-25.2,5],[-23.95,1.3],[-22.7,5.7],[-21.45,-0.5],
[-20.2,2.7],[-18.95,-2.2],[-17.7,3.5],[-16.45,-0.7],[-15.2,2],[-13.95,-2.1],[-12.7,4.3],[-11.45,-0.3],[-10.2,2.3],
[-8.95,-2],[-7.7,3.5],[-6.45,0],[-5.2,4.4],[-3.95,-1.7],[-2.7,1.8],[-1.45,-3],[-0.2,2.9],[1.05,-1.2],[2.3,1.4],
[3.55,-2.5],[4.8,3.9],[6.05,-0.7],[7.3,2.1],[8.55,-2.2],[9.8,3.2],[11.05,-0.4],[12.3,4],[13.55,-1.9],[14.8,1.4],
[16.05,-3.5],[17.3,2.2],[18.55,-1.8],[19.8,0.8],[21.05,-3.1],[22.3,3.5],[23.55,-1.2],[24.8,1.5],[26.05,-2.6],[27.3,3],
[28.55,-0.7],[29.8,3.7],[31.05,-2.2],[32.3,1.2],[33.55,-3.5],[34.8,2.4],[36.05,-1.7],[37.3,0.9],[38.55,-3],[39.8,3.6],
[41.05,-1],[42.3,1.8],[43.55,-2.3],[44.8,3.1],[46.05,-0.5],[47.3,3.9],[48.55,-2],[49.8,1.5],[51.05,-3.4],[52.3,2.4],
[53.55,-1.7],[54.8,0.9],[56.05,-3],[57.3,3.4],[58.55,-1.2],[59.8,1.6],[61.05,-2.7],[62.3,2.7],[63.55,-1.1],[64.8,3.3],
[66.05,-2.8],[67.3,0.5],[68.55,-4.5],[69.8,1.2],[71.05,-2.9],[72.3,-0.3],[73.55,-4.5],[74.8,1.8],[76.05,-2.9],
[77.3,-0.5],[78.55,-4.9],[79.8,0.3],[81.05,-3.5],[82.3,0.8],[83.55,-5.4],[84.8,-2.3],[86.05,-7.3],[87.3,-1.7],[88.55,-5.8],
[-87,-2.9],[-85,-3.6],[-83,-3.2],[-81,-4.8],[-79,-4.1],[-77,-5.1],[-75,-3.9],[-73,-3.5],[-71,-2.4],[-69,-2.6],
[-65,-1.1],[-63,-0.6],[-59,0.7],[-57,0.2],[-55,1.7],[-53,1.3],[-51,2.6],[-49,1.9],[-47,2.9],[-45,2.2],[-43,3.4],
[-41,2.6],[-39,3.5],[-37,2.6],[-35,3.7],[-33,2.5],[-31,3.1],[-29,2.1],[-27,2.8],[-25,1.7],[-23,2.3],[-21,1.2],
[-19,1.7],[-17,0.9],[-15,1.4],[-13,0.4],[-11,1.1],[-9,0.2],[-7,1.1],[-5,0.1],[-3,0.9],[-1,0.2],[1,0.9],[3,0.1],
[5,0.9],[7,0],[9,0.8],[11,-0.2],[13,0.6],[15,-0.3],[17,0.5],[19,-0.5],[21,0.4],[23,-0.5],[25,0.4],[27,-0.4],
[29,0.5],[31,-0.5],[33,0.5],[35,-0.3],[37,0.5],[39,-0.4],[41,0.6],[43,-0.3],[45,0.6],[47,-0.3],[49,0.6],[51,-0.2],
[53,0.5],[55,-0.4],[57,0.4],[59,-0.5],[61,0.3],[63,-0.7],[65,-0.2],[67,-1.1],[69,-0.6],[71,-1.5],[73,-0.9],
[75,-2],[77,-1.5],[79,-2.6],[81,-2.1],[83,-3.4],[85,-3],[87,-4.3],
[-47,15.3],[75,15.7],[-27,10],[-17,10.3],[88,8.5],[-40,7.5],[-35,7],[-25,7.5],[-60,6.5],[-3,5.8],[10,6],[35,6.2],
[45,5.5],[60,5.8],[75,5.5],[82,4],[-85,2.8],[-80,-11],[-82,-12.5],[-78,-10.5],[-81,-11.5],[-10,-13.5],[-5,-11.5],
[25,-11],[35,-12.5],[55,-12],[50,-10],[28,-20],[-45,-9],[-40,-8],[-55,-8],[-65,-7],[-70,-8],[-73,-8.5],[-30,-7],
[-15,-7],[0,-6.5],[15,-7],[40,-6],[65,-6],[78,-7],[85,-6.5],[88,-4.8],[-86,-6],[-88,-5]
];

// ---------- drawing ----------
const svg = d3.select("#chart");

const panels = [
  {id:"a", data:raDeltaAlpha, l:63.5, r:266.5, t:5, b:145, xd:[-9.5,368.5], yd:[-453,453],
   xt:raTicks, xm:10, yt:posTicks, ym:50, xlab:"Right Ascension (deg)", xtx:155, ylab:"alpha", ycx:13, ycy:62, shiftLow:true},
  {id:"b", data:decDeltaAlpha, l:338.5, r:539.5, t:5, b:145, xd:[-100,100], yd:[-453,453],
   xt:decTicks, xm:10, yt:posTicks, ym:50, xlab:"Declination (deg)", xtx:437, ylab:"alpha", ycx:293, ycy:62, shiftLow:true},
  {id:"c", data:raDeltaMu, l:63.5, r:266.5, t:193.5, b:333, xd:[-9.5,368.5], yd:[-20,20],
   xt:raTicks, xm:10, yt:pmTicks, ym:1, xlab:"Right Ascension (deg)", xtx:155, ylab:"mu1", ycx:14, ycy:259, shiftLow:false},
  {id:"d", data:decDeltaMu, l:338.5, r:539.5, t:193.5, b:333, xd:[-100,100], yd:[-20,20],
   xt:decTicks, xm:10, yt:pmTicks, ym:1, xlab:"Declination (deg)", xtx:437, ylab:"mu2", ycx:293, ycy:260, shiftLow:false}
];

function minorTicks(domain, step){
  const out=[]; const s=Math.ceil(domain[0]/step)*step;
  for(let v=s; v<=domain[1]+1e-9; v+=step) out.push(+v.toFixed(6));
  return out;
}

const TICKFONT = 12;
panels.forEach(p=>{
  const x = d3.scaleLinear().domain(p.xd).range([p.l,p.r]);
  const y = d3.scaleLinear().domain(p.yd).range([p.b,p.t]);
  const g = svg.append("g");

  g.append("clipPath").attr("id","clip"+p.id).append("rect")
    .attr("x",p.l).attr("y",p.t).attr("width",p.r-p.l).attr("height",p.b-p.t);

  // vertical grid
  g.append("g").selectAll("line").data(p.xt.filter(v=>x(v)>p.l+1 && x(v)<p.r-1)).join("line")
    .attr("x1",d=>x(d)).attr("x2",d=>x(d)).attr("y1",p.t).attr("y2",p.b)
    .attr("stroke","#c4c4c4").attr("stroke-width",0.8).attr("stroke-dasharray","3,2");
  // horizontal grid
  g.append("g").selectAll("line").data(p.yt.filter(v=>y(v)>p.t+1 && y(v)<p.b-1)).join("line")
    .attr("x1",p.l).attr("x2",p.r).attr("y1",d=>y(d)).attr("y2",d=>y(d))
    .attr("stroke","#222").attr("stroke-width",0.9).attr("stroke-dasharray","2,1.2");

  // points
  g.append("g").attr("clip-path","url(#clip"+p.id+")")
    .selectAll("rect").data(p.data).join("rect")
    .attr("x",d=>x(d[0])-1).attr("y",d=>y(d[1])-1)
    .attr("width",2).attr("height",2).attr("fill","#000");

  const xMinor = minorTicks(p.xd,p.xm);
  const yMinor = minorTicks(p.yd,p.ym);

  function styleAxis(sel){
    sel.select(".domain").remove();
    sel.selectAll(".tick line").attr("stroke","#222").attr("stroke-width",0.8);
  }
  // bottom
  g.append("g").attr("transform",`translate(0,${p.b})`)
    .call(d3.axisBottom(x).tickValues(xMinor).tickSize(-2.5).tickFormat(""))
    .call(styleAxis);
  const bx = g.append("g").attr("transform",`translate(0,${p.b})`)
    .call(d3.axisBottom(x).tickValues(p.xt).tickSize(-5).tickPadding(5))
    .call(styleAxis);
  bx.selectAll("text").attr("font-size",TICKFONT+"px").attr("fill","#111");
  // top
  g.append("g").attr("transform",`translate(0,${p.t})`)
    .call(d3.axisTop(x).tickValues(xMinor).tickSize(-2.5).tickFormat("")).call(styleAxis);
  g.append("g").attr("transform",`translate(0,${p.t})`)
    .call(d3.axisTop(x).tickValues(p.xt).tickSize(-5).tickFormat("")).call(styleAxis);
  // left
  g.append("g").attr("transform",`translate(${p.l},0)`)
    .call(d3.axisLeft(y).tickValues(yMinor).tickSize(-2.5).tickFormat("")).call(styleAxis);
  const ly = g.append("g").attr("transform",`translate(${p.l},0)`)
    .call(d3.axisLeft(y).tickValues(p.yt).tickSize(-5).tickPadding(4))
    .call(styleAxis);
  ly.selectAll("text").attr("font-size",TICKFONT+"px").attr("fill","#111");
  // lowest label sits at the bottom corner of the frame, just above the x labels
  const lowShift = p.shiftLow ? (p.b - y(p.yt[0]) - 2.5) : -2;
  ly.selectAll(".tick").filter(d=>d===p.yt[0]).select("text")
    .attr("dy", (0.32 + lowShift/TICKFONT)+"em");
  // right
  g.append("g").attr("transform",`translate(${p.r},0)`)
    .call(d3.axisRight(y).tickValues(yMinor).tickSize(-2.5).tickFormat("")).call(styleAxis);
  g.append("g").attr("transform",`translate(${p.r},0)`)
    .call(d3.axisRight(y).tickValues(p.yt).tickSize(-5).tickFormat("")).call(styleAxis);

  // frame
  g.append("rect").attr("x",p.l).attr("y",p.t).attr("width",p.r-p.l).attr("height",p.b-p.t)
    .attr("fill","none").attr("stroke","#222").attr("stroke-width",1);

  // x title
  g.append("text").attr("x",p.xtx).attr("y",p.b+29)
    .attr("text-anchor","middle").attr("font-size","11.8px").text(p.xlab);

  // y title
  const yt = g.append("text").attr("transform",`translate(${p.ycx},${p.ycy}) rotate(-90)`)
    .attr("text-anchor","middle").attr("font-size","11.2px").attr("dy","0.35em");
  if(p.ylab==="alpha"){
    yt.append("tspan").text("Δ");
    yt.append("tspan").attr("font-style","italic").text("α");
    yt.append("tspan").text(" cos δ (mas)");
  } else {
    yt.append("tspan").text("Δμ");
    yt.append("tspan").attr("font-size","8px").attr("dy","3").attr("font-style","italic").text("α");
    yt.append("tspan").attr("dy","-3").text(p.ylab==="mu1" ? " cos δ \u00a0\u00a0(mas/yr)" : " cos δ (mas/yr)");
  }
});
</script>
</body></html>
